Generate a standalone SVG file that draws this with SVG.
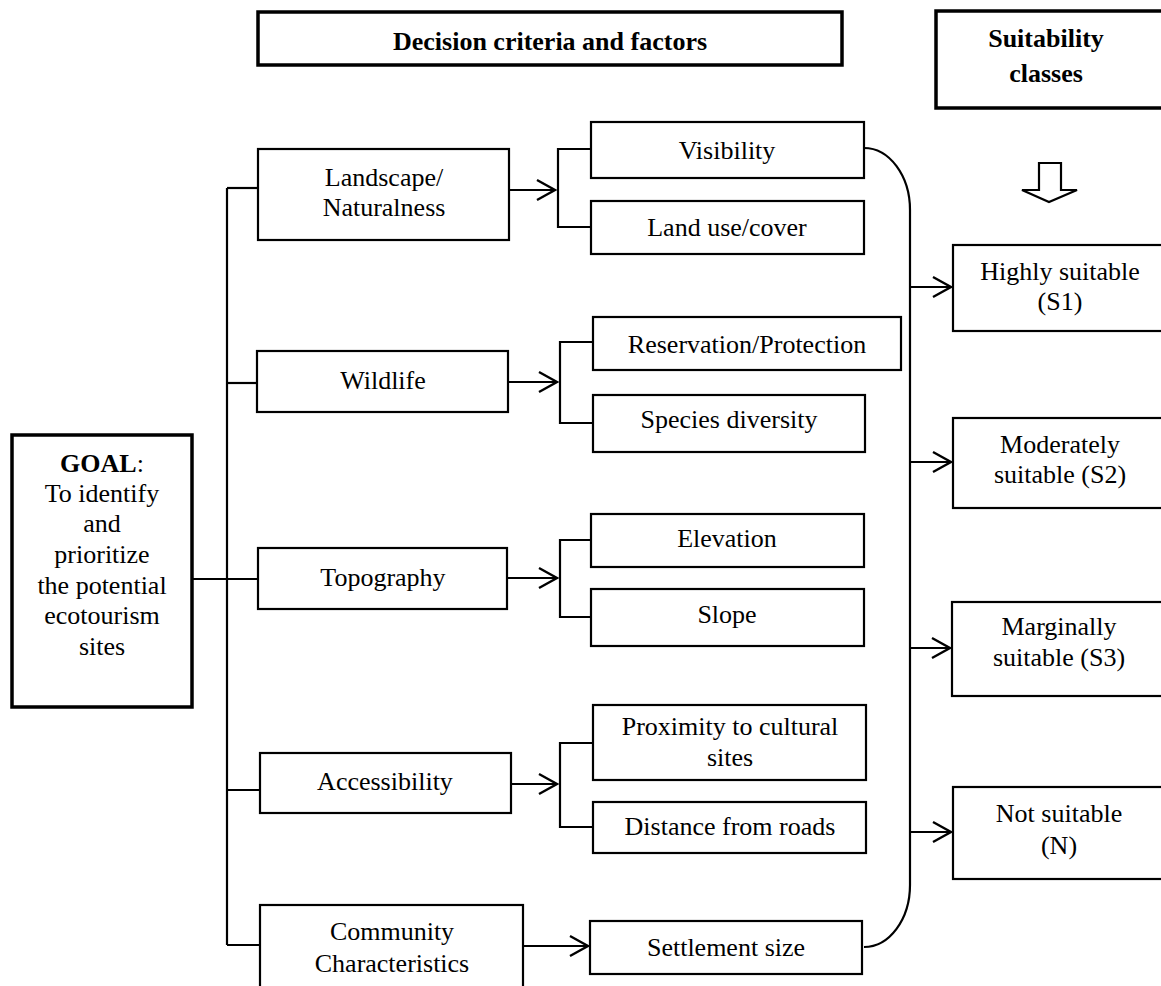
<svg xmlns="http://www.w3.org/2000/svg" width="1161" height="986" viewBox="0 0 1161 986">
  <style>
    text { font-family: "Liberation Serif", "Times New Roman", serif; font-size: 26px; fill: #000; text-anchor: middle; }
    .b { font-weight: bold; }
    .box { fill: #fff; stroke: #000; stroke-width: 2.2; }
    .thick { fill: #fff; stroke: #000; stroke-width: 3.5; }
    .ln { fill: none; stroke: #000; stroke-width: 2.2; }
  </style>
  <defs>
    <marker id="open" markerUnits="userSpaceOnUse" markerWidth="24" markerHeight="26" refX="20" refY="12" orient="auto" viewBox="0 0 24 26">
      <path d="M2,2 L20,12 L2,22" fill="none" stroke="#000" stroke-width="2.4"/>
    </marker>
  </defs>
  <rect width="1161" height="986" fill="#fff"/>

  <!-- connectors -->
  <g id="connectors">
    <!-- goal to main trunk -->
    <path class="ln" d="M192,579 H258"/>
    <path class="ln" d="M227,188 V945"/>
    <path class="ln" d="M227,188 H258"/>
    <path class="ln" d="M227,383 H257"/>
    <path class="ln" d="M227,790 H260"/>
    <path class="ln" d="M227,945 H260"/>

    <!-- criteria to factor brackets -->
    <path class="ln" d="M507,190 H555" marker-end="url(#open)"/>
    <path class="ln" d="M508,382 H557" marker-end="url(#open)"/>
    <path class="ln" d="M507,578 H557" marker-end="url(#open)"/>
    <path class="ln" d="M510,784 H557" marker-end="url(#open)"/>
    <path class="ln" d="M523,946 H588" marker-end="url(#open)"/>

    <path class="ln" d="M591,149 H558 V227 H591"/>
    <path class="ln" d="M593,342 H560 V423 H593"/>
    <path class="ln" d="M591,540 H560 V617 H591"/>
    <path class="ln" d="M593,743 H560 V827 H593"/>

    <!-- rounded collector on the right -->
    <path class="ln" d="M864,148 A46,62 0 0 1 910,210 V885 A46,62 0 0 1 864,947"/>

    <!-- collector to suitability classes -->
    <path class="ln" d="M910,287 H951" marker-end="url(#open)"/>
    <path class="ln" d="M910,462 H951" marker-end="url(#open)"/>
    <path class="ln" d="M910,648 H950" marker-end="url(#open)"/>
    <path class="ln" d="M910,832 H951" marker-end="url(#open)"/>

    <!-- hollow down arrow -->
    <path class="ln" d="M1039,163 H1061 V190 H1077 L1049,202 L1022,190 H1039 Z"/>
  </g>

  <!-- headers -->
  <g id="header-criteria">
    <rect class="thick" x="258" y="12" width="584" height="53"/>
    <text class="b" x="550" y="50">Decision criteria and factors</text>
  </g>
  <g id="header-classes">
    <rect class="thick" x="936" y="11" width="240" height="97"/>
    <text class="b" x="1046" y="47">Suitability</text>
    <text class="b" x="1046" y="82">classes</text>
  </g>

  <!-- goal -->
  <g id="goal">
    <rect class="thick" x="12" y="435" width="180" height="272"/>
    <text x="102" y="472"><tspan class="b">GOAL</tspan>:</text>
    <text x="102" y="502">To identify</text>
    <text x="102" y="532">and</text>
    <text x="102" y="563">prioritize</text>
    <text x="102" y="594">the potential</text>
    <text x="102" y="624">ecotourism</text>
    <text x="102" y="655">sites</text>
  </g>

  <!-- criteria -->
  <g id="landscape">
    <rect class="box" x="258" y="149" width="251" height="91"/>
    <text x="384" y="186">Landscape/</text>
    <text x="384" y="216">Naturalness</text>
  </g>
  <g id="wildlife">
    <rect class="box" x="257" y="351" width="251" height="61"/>
    <text x="383" y="389">Wildlife</text>
  </g>
  <g id="topography">
    <rect class="box" x="258" y="548" width="249" height="61"/>
    <text x="383" y="586">Topography</text>
  </g>
  <g id="accessibility">
    <rect class="box" x="260" y="753" width="251" height="60"/>
    <text x="385" y="790">Accessibility</text>
  </g>
  <g id="community">
    <rect class="box" x="260" y="905" width="263" height="100"/>
    <text x="392" y="940">Community</text>
    <text x="392" y="972">Characteristics</text>
  </g>

  <!-- factors -->
  <g id="visibility">
    <rect class="box" x="591" y="122" width="273" height="56"/>
    <text x="727" y="159">Visibility</text>
  </g>
  <g id="landuse">
    <rect class="box" x="591" y="201" width="273" height="53"/>
    <text x="727" y="236">Land use/cover</text>
  </g>
  <g id="reservation">
    <rect class="box" x="593" y="317" width="308" height="53"/>
    <text x="747" y="353">Reservation/Protection</text>
  </g>
  <g id="species">
    <rect class="box" x="593" y="395" width="272" height="57"/>
    <text x="729" y="428">Species diversity</text>
  </g>
  <g id="elevation">
    <rect class="box" x="591" y="514" width="273" height="53"/>
    <text x="727" y="547">Elevation</text>
  </g>
  <g id="slope">
    <rect class="box" x="591" y="589" width="273" height="57"/>
    <text x="727" y="623">Slope</text>
  </g>
  <g id="proximity">
    <rect class="box" x="593" y="705" width="273" height="75"/>
    <text x="730" y="735">Proximity to cultural</text>
    <text x="730" y="766">sites</text>
  </g>
  <g id="distance">
    <rect class="box" x="593" y="802" width="273" height="51"/>
    <text x="730" y="835">Distance from roads</text>
  </g>
  <g id="settlement">
    <rect class="box" x="590" y="921" width="272" height="53"/>
    <text x="726" y="956">Settlement size</text>
  </g>

  <!-- suitability classes -->
  <g id="s1">
    <rect class="box" x="953" y="245" width="220" height="86"/>
    <text x="1060" y="280">Highly suitable</text>
    <text x="1060" y="310">(S1)</text>
  </g>
  <g id="s2">
    <rect class="box" x="953" y="418" width="220" height="90"/>
    <text x="1060" y="453">Moderately</text>
    <text x="1060" y="483">suitable (S2)</text>
  </g>
  <g id="s3">
    <rect class="box" x="952" y="602" width="220" height="94"/>
    <text x="1059" y="635">Marginally</text>
    <text x="1059" y="666">suitable (S3)</text>
  </g>
  <g id="n">
    <rect class="box" x="953" y="787" width="220" height="92"/>
    <text x="1059" y="822">Not suitable</text>
    <text x="1059" y="854">(N)</text>
  </g>
</svg>
